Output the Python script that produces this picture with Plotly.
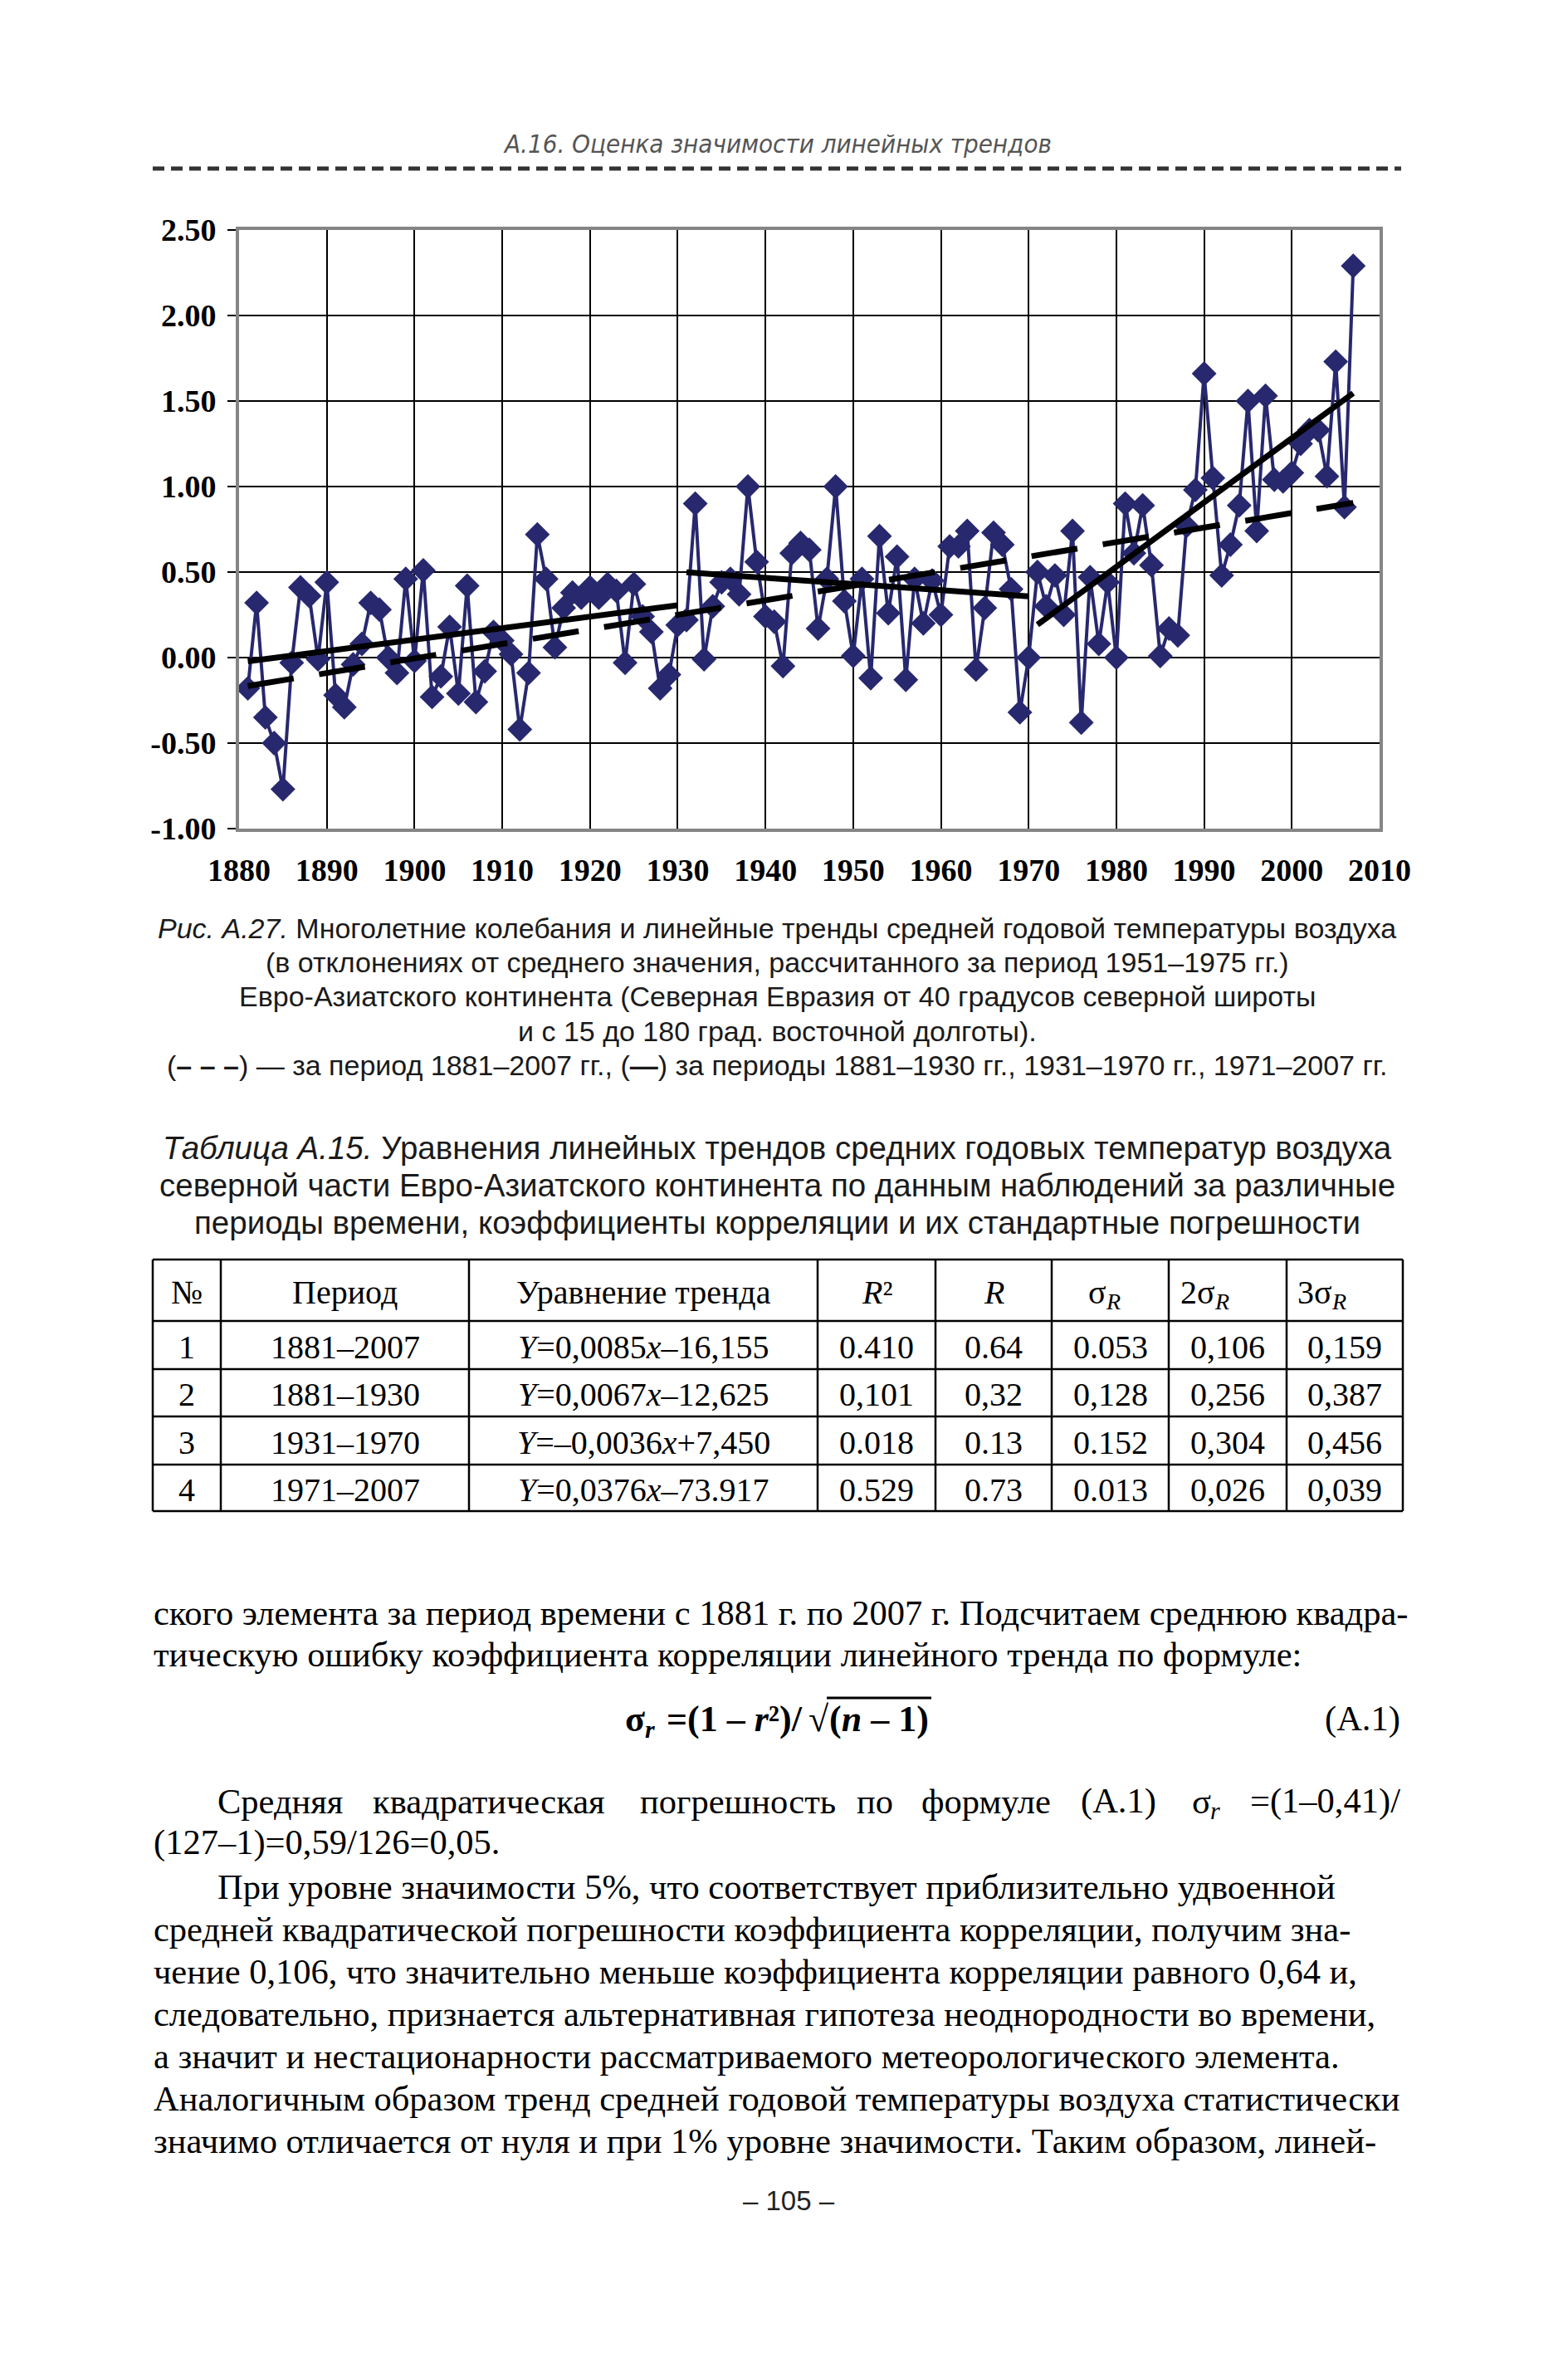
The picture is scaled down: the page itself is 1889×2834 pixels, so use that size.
import plotly.graph_objects as go
import numpy as np

# ---------------- data ----------------
years = list(range(1881, 2008))
anomaly = [
    -0.18, 0.32, -0.35, -0.50, -0.77, -0.03, 0.41, 0.36, -0.01, 0.44,   # 1881-1890
    -0.22, -0.29, -0.04, 0.08, 0.32, 0.28, 0.00, -0.09, 0.46, -0.02,    # 1891-1900
    0.51, -0.23, -0.11, 0.18, -0.21, 0.42, -0.26, -0.08, 0.15, 0.10,    # 1901-1910
    0.02, -0.42, -0.09, 0.72, 0.46, 0.06, 0.29, 0.38, 0.35, 0.41,       # 1911-1920
    0.35, 0.43, 0.39, -0.03, 0.43, 0.24, 0.15, -0.18, -0.10, 0.19,      # 1921-1930
    0.22, 0.90, -0.01, 0.30, 0.44, 0.46, 0.37, 1.00, 0.56, 0.24,        # 1931-1940
    0.21, -0.05, 0.61, 0.67, 0.63, 0.17, 0.46, 1.00, 0.33, 0.01,        # 1941-1950
    0.46, -0.12, 0.71, 0.26, 0.59, -0.13, 0.46, 0.20, 0.45, 0.25,       # 1951-1960
    0.65, 0.65, 0.74, -0.07, 0.29, 0.73, 0.66, 0.40, -0.32, 0.00,       # 1961-1970
    0.50, 0.30, 0.48, 0.25, 0.74, -0.38, 0.47, 0.08, 0.44, 0.00,        # 1971-1980
    0.90, 0.61, 0.89, 0.54, 0.01, 0.17, 0.13, 0.77, 0.98, 1.66,         # 1981-1990
    1.05, 0.48, 0.66, 0.89, 1.50, 0.74, 1.53, 1.04, 1.03, 1.08,         # 1991-2000
    1.25, 1.33, 1.33, 1.06, 1.73, 0.88, 2.29,                           # 2001-2007
]

trend_start = [1881, 1881, 1931, 1971]
trend_end = [2007, 1930, 1970, 2007]
trend_slope = [0.0085, 0.0067, -0.0036, 0.0376]
trend_icpt = [-16.155, -12.625, 7.450, -73.917]
trend_dashed = [True, False, False, False]

x_ticks = list(range(1880, 2011, 10))
x_ticklabels = [str(v) for v in x_ticks]
y_ticks = [-1.0, -0.5, 0.0, 0.5, 1.0, 1.5, 2.0, 2.5]
y_ticklabels = ["-1.00", "-0.50", "0.00", "0.50", "1.00", "1.50", "2.00", "2.50"]

# header cells: (main text, subscript text)
table_header = [("№", ""), ("Период", ""), ("Уравнение тренда", ""), ("<i>R</i>²", ""),
                ("<i>R</i>", ""), ("σ", "<i>R</i>"), ("2σ", "<i>R</i>"), ("3σ", "<i>R</i>")]
table_num = ["1", "2", "3", "4"]
table_period = ["1881–2007", "1881–1930", "1931–1970", "1971–2007"]
table_eq = ["<i>Y</i>=0,0085<i>x</i>–16,155", "<i>Y</i>=0,0067<i>x</i>–12,625",
            "<i>Y</i>=–0,0036<i>x</i>+7,450", "<i>Y</i>=0,0376<i>x</i>–73.917"]
table_r2 = ["0.410", "0,101", "0.018", "0.529"]
table_r = ["0.64", "0,32", "0.13", "0.73"]
table_sig = ["0.053", "0,128", "0.152", "0.013"]
table_2sig = ["0,106", "0,256", "0,304", "0,026"]
table_3sig = ["0,159", "0,387", "0,456", "0,039"]

header_text = "А.16. Оценка значимости линейных трендов"
caption_lines = [
    "<i>Рис. А.27.</i> Многолетние колебания и линейные тренды средней годовой температуры воздуха",
    "(в отклонениях от среднего значения, рассчитанного за период 1951–1975 гг.)",
    "Евро-Азиатского континента (Северная Евразия от 40 градусов северной широты",
    "и с 15 до 180 град. восточной долготы).",
    "(<b>– – –</b>) — за период 1881–2007 гг., (<b>—</b>) за периоды 1881–1930 гг., 1931–1970 гг., 1971–2007 гг.",
]
title_lines = [
    "<i>Таблица А.15.</i> Уравнения линейных трендов средних годовых температур воздуха",
    "северной части Евро-Азиатского континента по данным наблюдений за различные",
    "периоды времени, коэффициенты корреляции и их стандартные погрешности",
]
body_lines_a = [
    "ского элемента за период времени с 1881 г. по 2007 г. Подсчитаем среднюю квадра-",
    "тическую ошибку коэффициента корреляции линейного тренда по формуле:",
]
formula_parts = ["<b>σ</b>", "<b><i>r</i></b>", "<b> =(1 – <i>r</i>²)/</b>", "<b>√</b>", "<b>(<i>n</i> – 1)</b>"]
para2_words = ["Средняя", "квадратическая", "погрешность", "по", "формуле", "(A.1)"]
para2_word_x = [261, 448, 770, 1031, 1109, 1301]
para2_tail = ["σ", "<i>r</i>", "=(1–0,41)/"]
para2_line2 = "(127–1)=0,59/126=0,05."
para3_lines = [
    "При уровне значимости 5%, что соответствует приблизительно удвоенной",
    "средней квадратической погрешности коэффициента корреляции, получим зна-",
    "чение 0,106, что значительно меньше коэффициента корреляции равного 0,64 и,",
    "следовательно, признается альтернативная гипотеза неоднородности во времени,",
    "а значит и нестационарности рассматриваемого метеорологического элемента.",
    "Аналогичным образом тренд средней годовой температуры воздуха статистически",
    "значимо отличается от нуля и при 1% уровне значимости. Таким образом, линей-",
]
page_number = "– 105 –"

# ---------------- geometry (page pixels) ----------------
W, H = 1873, 2818
OFF = 8
PL, PR, PT, PB = 288, 1662, 277, 998      # plot area in page px

def fx(x):
    return ((x - OFF) - (PL - OFF)) / (PR - PL)

def fy(y):
    return 1 - ((y - OFF) - (PT - OFF)) / (PB - PT)

NAVY = "#28286f"
SERIF = "Liberation Serif, Times New Roman, serif"
SANS = "Liberation Sans, Arial, sans-serif"

fig = go.Figure()
fig.add_trace(go.Scatter(
    x=years, y=anomaly, mode="lines+markers",
    line=dict(color=NAVY, width=4),
    marker=dict(symbol="diamond", size=23, color=NAVY),
    hoverinfo="skip", showlegend=False,
))
for s, e, a, b, d in zip(trend_start, trend_end, trend_slope, trend_icpt, trend_dashed):
    xs = np.array([s, e], dtype=float)
    fig.add_trace(go.Scatter(
        x=xs, y=a * xs + b, mode="lines",
        line=dict(color="black", width=7, dash="56px,31px" if d else "solid"),
        hoverinfo="skip", showlegend=False,
    ))

fig.update_xaxes(
    range=[1880, 2010], tickvals=x_ticks, ticktext=x_ticklabels,
    showgrid=True, gridcolor="black", gridwidth=1.5,
    showline=True, linecolor="#858585", linewidth=4, mirror=True,
    ticks="outside", ticklen=13, tickcolor="rgba(0,0,0,0)", zeroline=False,
    tickfont=dict(family=SERIF, size=38, color="black", weight="bold"),
)
fig.update_yaxes(
    range=[-1, 2.5], tickvals=y_ticks, ticktext=y_ticklabels,
    showgrid=True, gridcolor="black", gridwidth=1.5,
    showline=True, linecolor="#858585", linewidth=4, mirror=True,
    ticks="outside", ticklen=10, tickcolor="black", tickwidth=1.5, zeroline=False,
    tickfont=dict(family=SERIF, size=38, color="black", weight="bold"),
    ticklabelstandoff=6,
)

ann = []
shapes = []

def text(x, y, s, size, family=SANS, anchor="center", color="#1a1a1a"):
    ann.append(dict(x=fx(x), y=fy(y), xref="paper", yref="paper", text=s,
                    showarrow=False, xanchor=anchor, yanchor="middle", borderpad=0,
                    font=dict(family=family, size=size, color=color)))

def hline(x0, x1, y, width=2.5, color="black", dash="solid"):
    shapes.append(dict(type="line", xref="paper", yref="paper", x0=fx(x0), x1=fx(x1),
                       y0=fy(y), y1=fy(y), line=dict(color=color, width=width, dash=dash)))

def vline(x, y0, y1, width=2.5, color="black"):
    shapes.append(dict(type="line", xref="paper", yref="paper", x0=fx(x), x1=fx(x),
                       y0=fy(y0), y1=fy(y1), line=dict(color=color, width=width)))

# running header
text(936, 173, "<i>" + header_text + "</i>", 31,
     family="Liberation Sans Narrow, DejaVu Sans Condensed, Arial Narrow, sans-serif", color="#555555")
hline(184, 1688, 203, width=5, color="#333333", dash="14px,8px")

# caption
for i, s in enumerate(caption_lines):
    text(936, 1118 + i * 41.2, s, 34)

# table title
for i, s in enumerate(title_lines):
    text(936, 1382 + i * 45, s, 38.5)

# table grid
col_x = [184, 266, 565, 985, 1127, 1267, 1408, 1550, 1690]
row_y = [1517, 1591, 1649, 1706, 1764, 1820]
for cx in col_x:
    vline(cx, row_y[0], row_y[-1])
for ry in row_y:
    hline(col_x[0], col_x[-1], ry)
centers = [(col_x[i] + col_x[i + 1]) / 2 for i in range(len(col_x) - 1)]
hy = (row_y[0] + row_y[1]) / 2 + 2
for c, (main, sub) in zip(centers, table_header):
    if sub:
        shift = -4 if main == "σ" else -14
        text(c + shift, hy, main, 40, family=SERIF, anchor="right", color="black")
        text(c + shift - 3, hy + 11, sub, 28, family=SERIF, anchor="left", color="black")
    else:
        text(c, hy, main, 40, family=SERIF, color="black")
columns = [table_num, table_period, table_eq, table_r2, table_r, table_sig, table_2sig, table_3sig]
for r in range(4):
    yc = (row_y[r + 1] + row_y[r + 2]) / 2 + 2
    for c, col in zip(centers, columns):
        text(c, yc, col[r], 40, family=SERIF, color="black")

# body text
BODY = 42.5
text(184, 1942, body_lines_a[0], BODY, family=SERIF, anchor="left", color="black")
text(184, 1993, body_lines_a[1], BODY, family=SERIF, anchor="left", color="black")
# formula (pieces)
FY = 2070
text(752, FY, formula_parts[0], 44, family=SERIF, anchor="left", color="black")
text(776, FY + 12, formula_parts[1], 30, family=SERIF, anchor="left", color="black")
text(791, FY, formula_parts[2], 44, family=SERIF, anchor="left", color="black")
text(1000, FY, formula_parts[3], 44, family=SERIF, anchor="right", color="black")
text(998, FY, formula_parts[4], 44, family=SERIF, anchor="left", color="black")
hline(996, 1122, FY - 25, width=3)
text(1688, FY, "(A.1)", BODY, family=SERIF, anchor="right", color="black")
# paragraph 2
for wd, wx in zip(para2_words, para2_word_x):
    text(wx, 2169, wd, BODY, family=SERIF, anchor="left", color="black")
text(1435, 2169, para2_tail[0], BODY, family=SERIF, anchor="left", color="black")
text(1457, 2180, para2_tail[1], 30, family=SERIF, anchor="left", color="black")
text(1688, 2169, para2_tail[2], BODY, family=SERIF, anchor="right", color="black")
text(184, 2219, para2_line2, BODY, family=SERIF, anchor="left", color="black")
# paragraph 3
for i, s in enumerate(para3_lines):
    text(261 if i == 0 else 184, 2272 + i * 51, s, BODY, family=SERIF, anchor="left", color="black")
text(950, 2650, page_number, 33, family=SANS, color="#222222")

fig.update_layout(
    width=W, height=H,
    margin=dict(l=PL - OFF, r=W - (PR - OFF), t=PT - OFF, b=H - (PB - OFF), pad=0),
    paper_bgcolor="white", plot_bgcolor="white",
    annotations=ann, shapes=shapes,
)
fig.write_html("out.html")
